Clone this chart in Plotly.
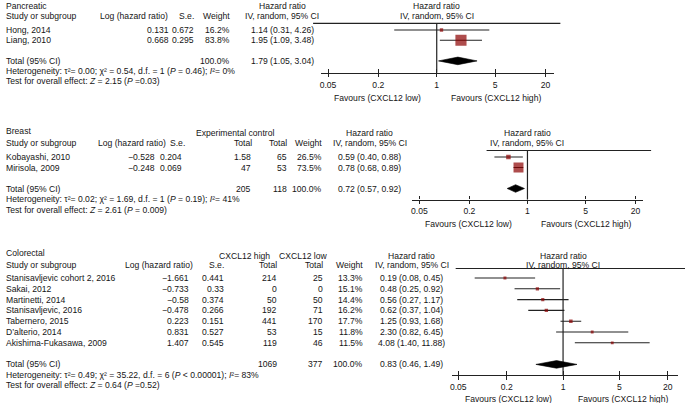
import plotly.graph_objects as go

# ---------------- data ----------------
tick_vals = [0.05, 0.2, 1, 5, 20]
tick_text = ["0.05", "0.2", "1", "5", "20"]
fav_low = "Favours (CXCL12 low)"
fav_high = "Favours (CXCL12 high)"

pan_studies = ["Hong, 2014", "Liang, 2010"]
pan_loghr = [0.131, 0.668]
pan_se = [0.672, 0.295]
pan_weight = [16.2, 83.8]
pan_hr = [1.14, 1.95]
pan_lo = [0.31, 1.09]
pan_hi = [4.26, 3.48]
pan_total = [1.79, 1.05, 3.04]
pan_het = "Heterogeneity: τ²= 0.00; χ² = 0.54, d.f. = 1 (<i>P</i> = 0.46); <i>I</i>²= 0%"
pan_test = "Test for overall effect: <i>Z</i> = 2.15 (<i>P</i> =0.03)"

br_studies = ["Kobayashi, 2010", "Mirisola, 2009"]
br_loghr = [-0.528, -0.248]
br_se = [0.204, 0.069]
br_exp_total = [1.58, 47]
br_ctrl_total = [65, 53]
br_weight = [26.5, 73.5]
br_hr = [0.59, 0.78]
br_lo = [0.40, 0.68]
br_hi = [0.88, 0.89]
br_total = [0.72, 0.57, 0.92]
br_total_n = [205, 118]
br_het = "Heterogeneity: τ²= 0.02; χ² = 1.69, d.f. = 1 (<i>P</i> = 0.19); <i>I</i>²= 41%"
br_test = "Test for overall effect: <i>Z</i> = 2.61 (<i>P</i> = 0.009)"

cr_studies = ["Stanisavljevic cohort 2, 2016", "Sakai, 2012", "Martinetti, 2014",
              "Stanisavljevic, 2016", "Tabernero, 2015", "D’alterio, 2014",
              "Akishima-Fukasawa, 2009"]
cr_loghr = [-1.661, -0.733, -0.58, -0.478, 0.223, 0.831, 1.407]
cr_se = [0.441, 0.33, 0.374, 0.266, 0.151, 0.527, 0.545]
cr_high_total = [214, 0, 50, 192, 441, 53, 119]
cr_low_total = [25, 0, 50, 71, 170, 15, 46]
cr_weight = [13.3, 15.1, 14.4, 16.2, 17.7, 11.8, 11.5]
cr_hr = [0.19, 0.48, 0.56, 0.62, 1.25, 2.30, 4.08]
cr_lo = [0.08, 0.25, 0.27, 0.37, 0.93, 0.82, 1.40]
cr_hi = [0.45, 0.92, 1.17, 1.04, 1.68, 6.45, 11.88]
cr_total = [0.83, 0.46, 1.49]
cr_total_n = [1069, 377]
cr_het = "Heterogeneity: τ²= 0.49; χ² = 35.22, d.f. = 6 (<i>P</i> < 0.00001); <i>I</i>²= 83%"
cr_test = "Test for overall effect: <i>Z</i> = 0.64 (<i>P</i> =0.52)"

# ---------------- layout constants (pixels) ----------------
W, H = 685, 403
FONT = "Liberation Sans, Arial, sans-serif"
FS = 8.6
TXT = "#151515"
LINE = "#222222"
SQ = "#8b0000"

P1 = dict(title_y=6, hdr1_y=5.5, hdr2_y=16, line_y=23.3, line_x=(312, 560), r0=30, s=10.3,
          het_y=71, test_y=80.5, axis_y=72.7, fav_y=98.3, c=436, d=83.8, ax_x=(320, 554),
          fav_off=(15, 13))
P2 = dict(title_y=130.5, hdr1_y=133, hdr2_y=143.3, line_y=150.5, line_x=(486, 651), r0=157, s=10.5,
          het_y=199, test_y=209.5, axis_y=199.5, fav_y=223.5, c=527, d=83.3, ax_x=(411.7, 643),
          fav_off=(15, 13))
P3 = dict(title_y=253, hdr1_y=255.5, hdr2_y=264.5, line_y=268.5, line_x=(455, 685), r0=278, s=10.8,
          het_y=374.5, test_y=385, axis_y=375, fav_y=399, c=562.7, d=80.8, ax_x=(451.7, 678.3),
          fav_off=(10, 14))

anns = []
shapes = []
traces = []


def T(px, py, text, anchor="left"):
    anns.append(dict(x=px / W, xref="paper", y=py, yref="y", text=text, xanchor=anchor,
                     yanchor="middle", showarrow=False, borderpad=0,
                     font=dict(family=FONT, size=FS, color=TXT)))


def num(v):
    return str(v).replace("-", "−")


def ci(h, l, u):
    return f"{h:.2f} ({l:.2f}, {u:.2f})"


def forest(P, hr, lo, hi, weight, total, xa):
    rows = [P["r0"] + k * P["s"] for k in range(len(hr))]
    ty = P["r0"] + (len(hr) + 1) * P["s"]
    # reference line at HR = 1
    traces.append(go.Scatter(x=[1, 1], y=[P["line_y"], P["axis_y"]], mode="lines",
                             line=dict(color=LINE, width=1.2), xaxis=xa, yaxis="y",
                             hoverinfo="skip"))
    xs, ys = [], []
    for l, u, y in zip(lo, hi, rows):
        xs += [l, u, None]
        ys += [y, y, None]
    traces.append(go.Scatter(x=xs, y=ys, mode="lines", line=dict(color=LINE, width=1.1),
                             xaxis=xa, yaxis="y", hoverinfo="skip"))
    traces.append(go.Scatter(x=hr, y=rows, mode="markers",
                             marker=dict(symbol="square", color=SQ,
                                         size=[1.5 + w * 0.115 for w in weight],
                                         line=dict(width=0)),
                             xaxis=xa, yaxis="y", hoverinfo="skip"))
    h = 3.8
    traces.append(go.Scatter(x=[total[1], total[0], total[2], total[0], total[1]],
                             y=[ty, ty - h, ty, ty + h, ty], mode="lines", fill="toself",
                             fillcolor="black", line=dict(color="black", width=0.6),
                             xaxis=xa, yaxis="y", hoverinfo="skip"))
    shapes.append(dict(type="line", xref="paper", yref="y", x0=P["line_x"][0] / W,
                       x1=P["line_x"][1] / W, y0=P["line_y"], y1=P["line_y"],
                       line=dict(color=LINE, width=1.2)))
    T(P["c"], P["hdr1_y"], "Hazard ratio", "center")
    T(P["c"], P["hdr2_y"], "IV, random, 95% CI", "center")
    T(P["c"] - P["fav_off"][0], P["fav_y"], fav_low, "right")
    T(P["c"] + P["fav_off"][1], P["fav_y"], fav_high, "left")
    return rows, ty


# ---------------- Panel 1: Pancreatic ----------------
rows, ty = forest(P1, pan_hr, pan_lo, pan_hi, pan_weight, pan_total, "x")
T(3, P1["title_y"], "Pancreatic")
T(3, P1["hdr2_y"], "Study or subgroup")
T(167, P1["hdr2_y"], "Log (hazard ratio)", "right")
T(194, P1["hdr2_y"], "S.e.", "right")
T(230, P1["hdr2_y"], "Weight", "right")
T(281, P1["hdr1_y"], "Hazard ratio", "center")
T(281, P1["hdr2_y"], "IV, random, 95% CI", "center")
for i, y in enumerate(rows):
    T(3, y, pan_studies[i])
    T(168, y, num(pan_loghr[i]), "right")
    T(194, y, num(pan_se[i]), "right")
    T(230, y, f"{pan_weight[i]:.1f}%", "right")
    T(281, y, ci(pan_hr[i], pan_lo[i], pan_hi[i]), "center")
T(3, ty, "Total (95% CI)")
T(230, ty, "100.0%", "right")
T(281, ty, ci(*pan_total), "center")
T(3, P1["het_y"], pan_het)
T(3, P1["test_y"], pan_test)

# ---------------- Panel 2: Breast ----------------
rows, ty = forest(P2, br_hr, br_lo, br_hi, br_weight, br_total, "x2")
T(3, P2["title_y"], "Breast")
T(274, P2["hdr1_y"], "Experimental control", "right")
T(3, P2["hdr2_y"], "Study or subgroup")
T(165, P2["hdr2_y"], "Log (hazard ratio)", "right")
T(185, P2["hdr2_y"], "S.e.", "right")
T(252, P2["hdr2_y"], "Total", "right")
T(287, P2["hdr2_y"], "Total", "right")
T(322, P2["hdr2_y"], "Weight", "right")
T(369, P2["hdr1_y"], "Hazard ratio", "center")
T(369, P2["hdr2_y"], "IV, random, 95% CI", "center")
for i, y in enumerate(rows):
    T(3, y, br_studies[i])
    T(154, y, num(br_loghr[i]), "right")
    T(182, y, num(br_se[i]), "right")
    T(251, y, num(br_exp_total[i]), "right")
    T(287, y, num(br_ctrl_total[i]), "right")
    T(322, y, f"{br_weight[i]:.1f}%", "right")
    T(369, y, ci(br_hr[i], br_lo[i], br_hi[i]), "center")
T(3, ty, "Total (95% CI)")
T(251, ty, num(br_total_n[0]), "right")
T(287, ty, num(br_total_n[1]), "right")
T(322, ty, "100.0%", "right")
T(369, ty, ci(*br_total), "center")
T(3, P2["het_y"], br_het)
T(3, P2["test_y"], br_test)

# ---------------- Panel 3: Colorectal ----------------
rows, ty = forest(P3, cr_hr, cr_lo, cr_hi, cr_weight, cr_total, "x3")
T(3, P3["title_y"], "Colorectal")
T(270, P3["hdr1_y"], "CXCL12 high", "right")
T(328, P3["hdr1_y"], "CXCL12 low", "right")
T(3, P3["hdr2_y"], "Study or subgroup")
T(193, P3["hdr2_y"], "Log (hazard ratio)", "right")
T(224, P3["hdr2_y"], "S.e.", "right")
T(277, P3["hdr2_y"], "Total", "right")
T(323, P3["hdr2_y"], "Total", "right")
T(363, P3["hdr2_y"], "Weight", "right")
T(411, P3["hdr1_y"], "Hazard ratio", "center")
T(411, P3["hdr2_y"], "IV, random, 95% CI", "center")
for i, y in enumerate(rows):
    T(3, y, cr_studies[i])
    T(189, y, num(cr_loghr[i]), "right")
    T(224, y, num(cr_se[i]), "right")
    T(277, y, num(cr_high_total[i]), "right")
    T(323, y, num(cr_low_total[i]), "right")
    T(363, y, f"{cr_weight[i]:.1f}%", "right")
    T(411, y, ci(cr_hr[i], cr_lo[i], cr_hi[i]), "center")
T(3, ty, "Total (95% CI)")
T(277, ty, num(cr_total_n[0]), "right")
T(323, ty, num(cr_total_n[1]), "right")
T(363, ty, "100.0%", "right")
T(411, ty, ci(*cr_total), "center")
T(3, P3["het_y"], cr_het)
T(3, P3["test_y"], cr_test)


def xaxis_cfg(P):
    lo = (P["ax_x"][0] - P["c"]) / P["d"]
    hi = (P["ax_x"][1] - P["c"]) / P["d"]
    return dict(type="log", range=[lo, hi], domain=[P["ax_x"][0] / W, P["ax_x"][1] / W],
                anchor="free", position=1 - P["axis_y"] / H, showgrid=False, zeroline=False,
                tickmode="array", tickvals=tick_vals, ticktext=tick_text,
                ticks="outside", ticklen=3.5, tickwidth=1.1, tickcolor=LINE,
                minor=dict(tickmode="array", tickvals=[v * 1.0004 for v in tick_vals],
                           ticks="inside", ticklen=3.5, tickwidth=1.1, tickcolor=LINE,
                           showgrid=False),
                showline=True, linecolor=LINE, linewidth=1.1,
                showticklabels=True, tickfont=dict(family=FONT, size=FS, color=TXT),
                fixedrange=True)


fig = go.Figure(traces)
fig.update_layout(
    width=W, height=H, autosize=False,
    margin=dict(l=0, r=0, t=0, b=0, pad=0),
    paper_bgcolor="white", plot_bgcolor="rgba(0,0,0,0)",
    showlegend=False,
    xaxis=xaxis_cfg(P1), xaxis2=xaxis_cfg(P2), xaxis3=xaxis_cfg(P3),
    yaxis=dict(range=[H, 0], domain=[0, 1], visible=False, fixedrange=True),
    annotations=anns, shapes=shapes,
)
fig.write_html("out.html", config=dict(displayModeBar=False),
               post_script="document.body.style.margin='0px';document.body.style.overflow='hidden';")
